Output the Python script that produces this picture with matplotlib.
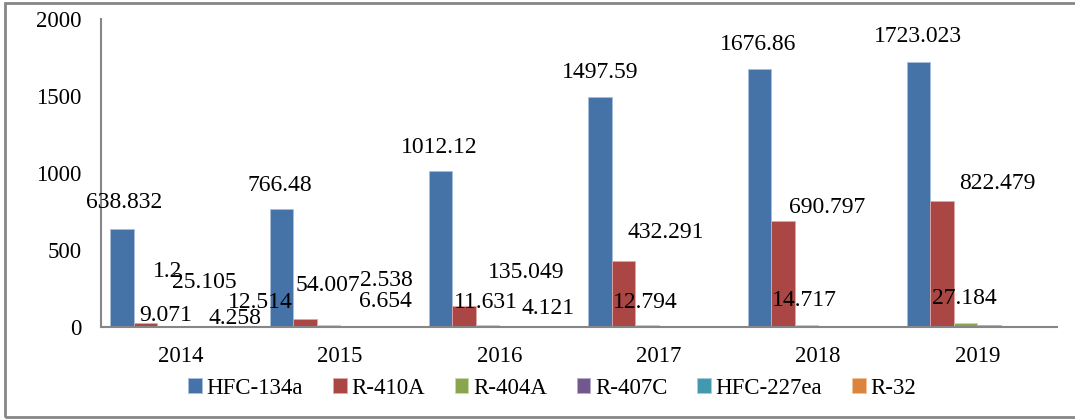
import matplotlib
matplotlib.use('Agg')
import matplotlib.pyplot as plt
import numpy as np
from matplotlib.patches import Rectangle

years = ['2014', '2015', '2016', '2017', '2018', '2019']
series = ['HFC-134a', 'R-410A', 'R-404A', 'R-407C', 'HFC-227ea', 'R-32']

hfc134a = [638.832, 766.48, 1012.12, 1497.59, 1676.86, 1723.023]
r410a = [25.105, 54.007, 135.049, 432.291, 690.797, 822.479]
r404a = [9.071, 12.514, 11.631, 12.794, 14.717, 27.184]
r407c = [1.2, 2.538, 4.121, 5.0, 8.0, 15.0]
hfc227ea = [4.258, 6.654, 0.0, 0.0, 0.0, 0.0]
r32 = [0.0, 0.0, 0.0, 0.0, 3.0, 3.0]

# which data labels are shown in the original chart
shown_134a = [True] * 6
shown_410a = [True] * 6
shown_404a = [True] * 6
shown_407c = [True, True, True, False, False, False]
shown_227ea = [True, True, False, False, False, False]
shown_32 = [False] * 6

colors = ['#4572A7', '#AA4643', '#89A54E', '#71588F', '#4198AF', '#DB843D']
edges = ['#A9BFDB', '#DDA9A7', '#C9D9AE', '#B9ADCB', '#A5D0DB', '#F0C29E']

# label offsets (pixels, from bar top centre), hand-placed like the source
offsets = {
    0: [(2, 26), (-1, 24), (-1, 24), (0, 24), (-1, 25), (-1, 25)],
    1: [(59, 41), (23, 33), (62, 34), (42, 28), (44, 13), (55, 17)],
    2: [(-3, 10), (-68, 23), (-2, 23), (-2, 23), (-2, 24), (-1, 24)],
    3: [(-25, 55), (35, 46), (37, 18), (0, 0), (0, 0), (0, 0)],
    4: [(19, 8), (10, 24), (0, 0), (0, 0), (0, 0), (0, 0)],
    5: [(0, 0)] * 6,
}

values = [hfc134a, r410a, r404a, r407c, hfc227ea, r32]
shown = [shown_134a, shown_410a, shown_404a, shown_407c, shown_227ea, shown_32]

plt.rcParams['font.family'] = ['Liberation Serif', 'DejaVu Serif']
fig = plt.figure(figsize=(10.75, 4.19), dpi=100)
ax = fig.add_axes([101 / 1075, 92 / 419, 956 / 1075, 307.6 / 419])

x = np.arange(len(years))
w = 0.1474
px = 72 / 100  # pixels -> points
for k, name in enumerate(series):
    xs = x + (k - 2.5) * w
    ax.bar(xs, values[k], width=w, color=colors[k], edgecolor=edges[k],
           linewidth=0.6, label=name, zorder=2)
    for i in range(len(years)):
        if not shown[k][i]:
            continue
        dx, dy = offsets[k][i]
        ax.annotate(str(values[k][i]), (xs[i], values[k][i]),
                    xytext=(dx * px, dy * px), textcoords='offset points',
                    ha='center', va='center', fontsize=17,
                    color='black', zorder=3)

ax.set_xlim(-0.5, 5.5)
ax.set_ylim(0, 2000)
ax.set_yticks([0, 500, 1000, 1500, 2000])
ax.set_xticks(x)
ax.set_xticklabels(years)
ax.tick_params(axis='both', labelsize=16.5)
ax.tick_params(axis='y', length=0, pad=14)
ax.tick_params(axis='x', length=0, pad=14)
for s in ['top', 'right']:
    ax.spines[s].set_visible(False)
for s in ['left', 'bottom']:
    ax.spines[s].set_color('#868686')
    ax.spines[s].set_linewidth(1.5)
ax.set_facecolor('none')

leg = fig.legend(loc='center', bbox_to_anchor=(552 / 1075, 1 - 388 / 419),
                 ncol=6, frameon=False, handlelength=0.6, handleheight=0.6,
                 handletextpad=0.2, columnspacing=1.3, fontsize=16.5)

fig.patches.append(Rectangle((5 / 1075, 2 / 419), 1.2, 414 / 419,
                             transform=fig.transFigure, fill=False,
                             edgecolor='#868686', linewidth=2))

fig.savefig('out.png', dpi=100)
